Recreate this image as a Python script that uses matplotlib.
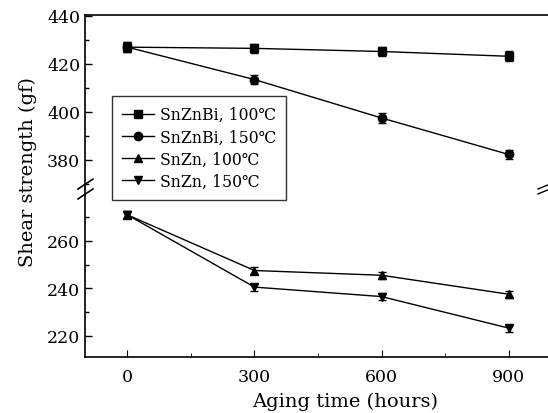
import matplotlib
matplotlib.use("Agg")
import matplotlib.pyplot as plt
from matplotlib.ticker import MultipleLocator, FixedLocator
from matplotlib.lines import Line2D

plt.rcParams['font.family'] = ['DejaVu Serif', 'Noto Sans CJK SC']
plt.rcParams['mathtext.fontset'] = 'dejavuserif'

hours = [0, 300, 600, 900]
snznbi_100 = [427, 426.5, 425.2, 423.2]
snznbi_150 = [427, 413.5, 397.5, 382.3]
snzn_100 = [271, 247.5, 245.5, 237.5]
snzn_150 = [271, 240.5, 236.5, 223.2]
err_top = [2, 2, 2, 2]
err_bot = [1.5, 1.5, 1.5, 1.5]
labels = ['SnZnBi, 100℃', 'SnZnBi, 150℃', 'SnZn, 100℃', 'SnZn, 150℃']
markers = ['s', 'o', '^', 'v']

W, H = 548, 414
fig = plt.figure(figsize=(W/100, H/100), dpi=100)
left = 85/W
width = (551-85)/W
ax_t = fig.add_axes([left, (H-190)/H, width, (190-16)/H])
ax_b = fig.add_axes([left, (H-358)/H, width, (358-190)/H], sharex=ax_t)
ax_t.set_zorder(3)
ax_t.patch.set_alpha(0)

kw = dict(color='black', lw=1.0, capsize=3, elinewidth=1.0, capthick=1.0, markersize=6)
ax_t.errorbar(hours, snznbi_100, yerr=err_top, marker=markers[0], **kw)
ax_t.errorbar(hours, snznbi_150, yerr=err_top, marker=markers[1], **kw)
ax_b.errorbar(hours, snzn_100, yerr=err_bot, marker=markers[2], **kw)
ax_b.errorbar(hours, snzn_150, yerr=err_bot, marker=markers[3], **kw)

ax_t.set_xlim(-100, 1000)
ax_t.set_ylim(367.9, 440.4)
ax_b.set_ylim(211, 281.9)

for ax in (ax_t, ax_b):
    ax.spines['right'].set_visible(False)
    ax.tick_params(axis='y', which='major', direction='in', length=5, labelsize=12.5, width=1)
    ax.tick_params(axis='y', which='minor', direction='in', length=3, width=1)
    for s in ax.spines.values():
        s.set_linewidth(1.2)

ax_t.yaxis.set_major_locator(FixedLocator([380, 400, 420, 440]))
ax_t.yaxis.set_minor_locator(FixedLocator([370, 390, 410, 430]))
ax_b.yaxis.set_major_locator(FixedLocator([220, 240, 260]))
ax_b.yaxis.set_minor_locator(FixedLocator([230, 250, 270]))

ax_t.spines['bottom'].set_visible(False)
ax_b.spines['top'].set_visible(False)
ax_t.tick_params(axis='x', which='both', bottom=False, labelbottom=False)
ax_b.xaxis.set_major_locator(MultipleLocator(300))
ax_b.xaxis.set_minor_locator(MultipleLocator(150))
ax_b.tick_params(axis='x', which='major', direction='in', length=5, labelsize=12.5, pad=8)
ax_b.tick_params(axis='x', which='minor', direction='in', length=3)

# break marks
for dy in (-0.012, 0.012):
    fig.add_artist(Line2D([78/W, 93/W], [(H-190)/H + dy - 0.012, (H-190)/H + dy + 0.012],
                          color='black', lw=1.2))
    fig.add_artist(Line2D([538/W, 548/W], [(H-190)/H + dy/2 - 0.006, (H-190)/H + dy/2 + 0.004],
                          color='black', lw=1.0))

handles = [Line2D([], [], color='black', lw=1.0, marker=m, markersize=6) for m in markers]
leg = ax_t.legend(handles, labels, loc='upper left',
                  bbox_to_anchor=((112-85)/(551-85), (190-97)/174),
                  fontsize=11.3, frameon=True, fancybox=False, edgecolor='black',
                  handlelength=2.0, labelspacing=0.33, borderpad=0.65, handletextpad=0.4,
                  borderaxespad=0)
leg.get_frame().set_linewidth(1.0)

fig.text(28/W, 1-172/H, 'Shear strength (gf)', rotation=90, ha='center', va='center', fontsize=14)
fig.text(345/W, 1-402/H, 'Aging time (hours)', ha='center', va='center', fontsize=14)

fig.savefig('out.png', dpi=100)
